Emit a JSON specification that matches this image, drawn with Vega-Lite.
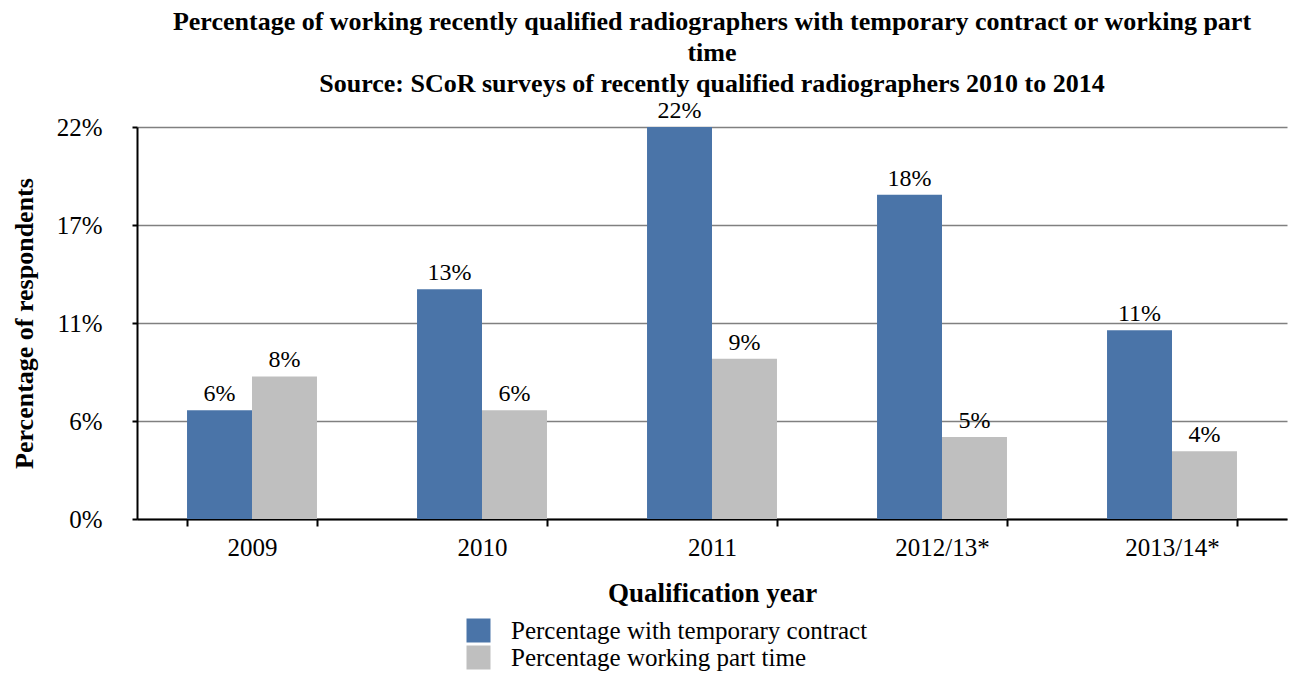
{
  "$schema": "https://vega.github.io/schema/vega-lite/v6.json",
  "width": 1150,
  "height": 392,
  "autosize": {"type": "none"},
  "padding": {"left": 137, "top": 127, "right": 4, "bottom": 154},
  "background": "white",
  "config": {
    "font": "Liberation Serif",
    "view": {"stroke": null}
  },
  "title": {
    "text": ["Percentage of working recently qualified radiographers with temporary contract or working part", "time", "Source: SCoR surveys of recently qualified radiographers 2010 to 2014"],
    "font": "Liberation Serif",
    "fontSize": 26,
    "fontWeight": "bold",
    "color": "black",
    "anchor": "middle",
    "frame": "group",
    "lineHeight": 31,
    "offset": 2
  },
  "data": {
    "values": [
      {"year": "2009", "series": "Percentage with temporary contract", "value": 0.061},
      {"year": "2009", "series": "Percentage working part time", "value": 0.080},
      {"year": "2010", "series": "Percentage with temporary contract", "value": 0.129},
      {"year": "2010", "series": "Percentage working part time", "value": 0.061},
      {"year": "2011", "series": "Percentage with temporary contract", "value": 0.220},
      {"year": "2011", "series": "Percentage working part time", "value": 0.090},
      {"year": "2012/13*", "series": "Percentage with temporary contract", "value": 0.182},
      {"year": "2012/13*", "series": "Percentage working part time", "value": 0.046},
      {"year": "2013/14*", "series": "Percentage with temporary contract", "value": 0.106},
      {"year": "2013/14*", "series": "Percentage working part time", "value": 0.038}
    ]
  },
  "encoding": {
    "x": {
      "field": "year",
      "type": "nominal",
      "sort": null,
      "scale": {"paddingInner": 0.435, "paddingOuter": 0.2175},
      "axis": {
        "title": "Qualification year",
        "titleFont": "Liberation Serif",
        "titleFontSize": 27,
        "titleFontWeight": "bold",
        "titleColor": "black",
        "titlePadding": 20,
        "labelAngle": 0,
        "labelFont": "Liberation Serif",
        "labelFontSize": 25,
        "labelColor": "black",
        "labelPadding": 9,
        "tickBand": "extent",
        "tickSize": 7,
        "tickColor": "black",
        "tickWidth": 2,
        "domainColor": "black",
        "domainWidth": 2,
        "grid": false
      }
    },
    "xOffset": {"field": "series", "type": "nominal", "scale": {"paddingInner": 0, "paddingOuter": 0}},
    "y": {
      "field": "value",
      "type": "quantitative",
      "scale": {"domain": [0, 0.22], "nice": false},
      "axis": {
        "title": "Percentage of respondents",
        "titleFont": "Liberation Serif",
        "titleFontSize": 26,
        "titleFontWeight": "bold",
        "titleColor": "black",
        "titlePadding": 19,
        "values": [0, 0.055, 0.11, 0.165, 0.22],
        "labelExpr": "round(datum.value * 100) + '%'",
        "labelFont": "Liberation Serif",
        "labelFontSize": 25,
        "labelColor": "black",
        "labelPadding": 30,
        "tickSize": 5,
        "tickColor": "black",
        "tickWidth": 2,
        "domainColor": "black",
        "domainWidth": 2,
        "grid": true,
        "gridColor": "#808080",
        "gridWidth": 1.5
      }
    }
  },
  "layer": [
    {
      "mark": {"type": "bar"},
      "encoding": {
        "color": {
          "field": "series",
          "type": "nominal",
          "scale": {
            "domain": ["Percentage with temporary contract", "Percentage working part time"],
            "range": ["#4a74a8", "#bfbfbf"]
          },
          "legend": {
            "title": null,
            "orient": "none",
            "legendX": 329,
            "legendY": 491,
            "direction": "vertical",
            "symbolType": "square",
            "symbolSize": 576,
            "symbolStrokeWidth": 0,
            "rowPadding": 1,
            "labelFont": "Liberation Serif",
            "labelFontSize": 25,
            "labelColor": "black",
            "labelOffset": 20,
            "labelLimit": 700
          }
        }
      }
    },
    {
      "mark": {"type": "text", "baseline": "alphabetic", "dy": -9, "font": "Liberation Serif", "fontSize": 24, "color": "black"},
      "encoding": {
        "text": {"field": "value", "type": "quantitative", "format": ".0%"}
      }
    }
  ]
}
